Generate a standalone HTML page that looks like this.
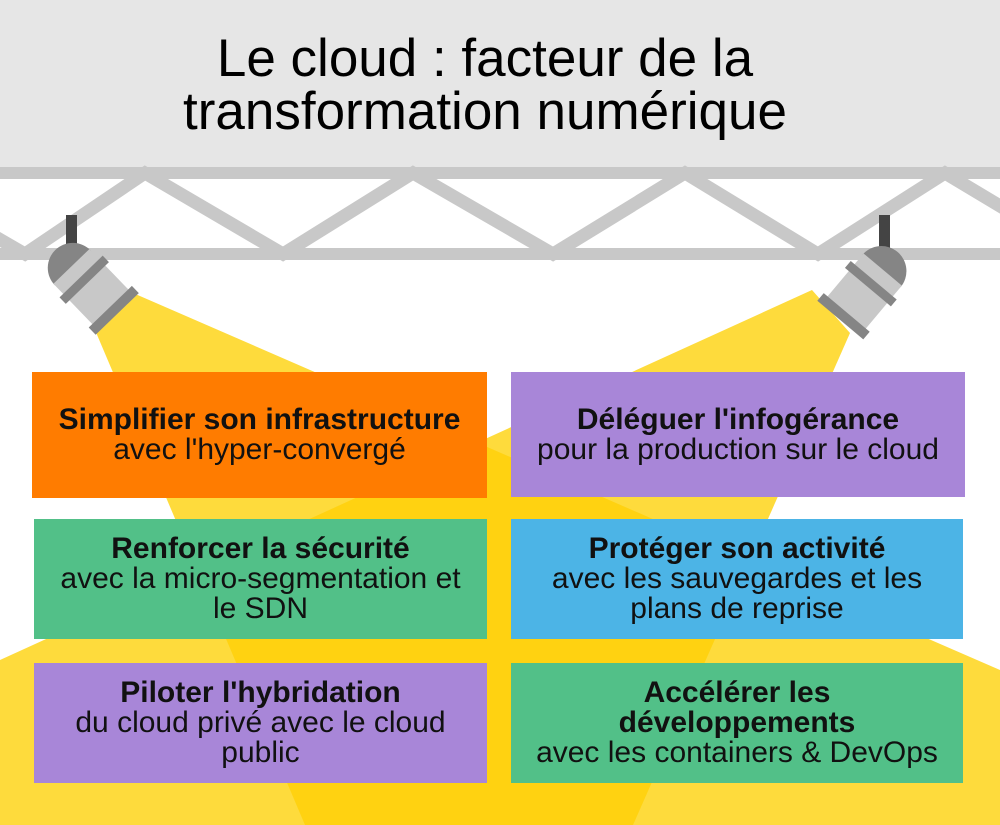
<!DOCTYPE html>
<html><head><meta charset="utf-8"><style>
html,body{margin:0;padding:0}
body{width:1000px;height:825px;position:relative;overflow:hidden;background:#fff;font-family:"Liberation Sans",Arial,sans-serif}
svg{position:absolute;left:0;top:0}
.t{position:absolute;left:0;width:970px;text-align:center;font-size:53px;color:#000;white-space:nowrap}
.b{position:absolute;display:flex;flex-direction:column;justify-content:center;align-items:center;text-align:center;font-size:30px;line-height:30px;color:#111;white-space:nowrap}
.b b{font-weight:bold}
</style></head><body>
<svg width="1000" height="825" viewBox="0 0 1000 825">
<defs>
<clipPath id="lb"><polygon points="95,330 133,293 1000,670 1000,825 305,825"/></clipPath>
</defs>
<rect x="0" y="0" width="1000" height="167" fill="#e6e6e6"/>
<polygon points="95,330 133,293 1000,670 1000,825 305,825" fill="#fedb3c"/>
<polygon points="850,333 812,290 0,660 0,825 633,825" fill="#fedb3c"/>
<polygon points="850,333 812,290 0,660 0,825 633,825" fill="#ffd211" clip-path="url(#lb)"/>
<polyline points="-115,173 25,254 145,173 283,254 413,173 553,254 685,173 818,254 945,173 1080,254" fill="none" stroke="#c8c8c8" stroke-width="13"/>
<rect x="0" y="167" width="1000" height="12" fill="#c8c8c8"/>
<rect x="0" y="248" width="1000" height="12" fill="#c8c8c8"/>
<rect x="66" y="215" width="11" height="40" fill="#444"/>
<g transform="translate(70,265) rotate(46)">
<path d="M4,-25 A25,25 0 0 0 4,25 Z" fill="#858585"/>
<rect x="2" y="-25" width="64" height="50" fill="#c8c8c8"/>
<rect x="16" y="-30" width="9" height="60" fill="#858585"/>
<rect x="58" y="-30" width="10" height="60" fill="#858585"/>
</g>
<rect x="879" y="215" width="11" height="40" fill="#444"/>
<g transform="translate(884,268) scale(-1,1) rotate(50)">
<path d="M4,-25 A25,25 0 0 0 4,25 Z" fill="#858585"/>
<rect x="2" y="-25" width="64" height="50" fill="#c8c8c8"/>
<rect x="16" y="-30" width="9" height="60" fill="#858585"/>
<rect x="58" y="-30" width="10" height="60" fill="#858585"/>
</g>
</svg>
<div class="t" style="top:32px;line-height:53px">Le cloud : facteur de la<br>transformation numérique</div>

<div class="b" style="left:32px;top:372px;width:455px;height:126px;background:#ff7c00"><b>Simplifier son infrastructure</b><span>avec l'hyper-convergé</span></div>
<div class="b" style="left:511px;top:372px;width:454px;height:125px;background:#a886d8"><b>Déléguer l'infogérance</b><span>pour la production sur le cloud</span></div>
<div class="b" style="left:34px;top:519px;width:453px;height:120px;background:#52c088"><b>Renforcer la sécurité</b><span>avec la micro-segmentation et<br>le SDN</span></div>
<div class="b" style="left:511px;top:519px;width:452px;height:120px;background:#4cb4e6"><b>Protéger son activité</b><span>avec les sauvegardes et les<br>plans de reprise</span></div>
<div class="b" style="left:34px;top:663px;width:453px;height:120px;background:#a886d8"><b>Piloter l'hybridation</b><span>du cloud privé avec le cloud<br>public</span></div>
<div class="b" style="left:511px;top:663px;width:452px;height:120px;background:#52c088"><b>Accélérer les<br>développements</b><span>avec les containers &amp; DevOps</span></div>
</body></html>
